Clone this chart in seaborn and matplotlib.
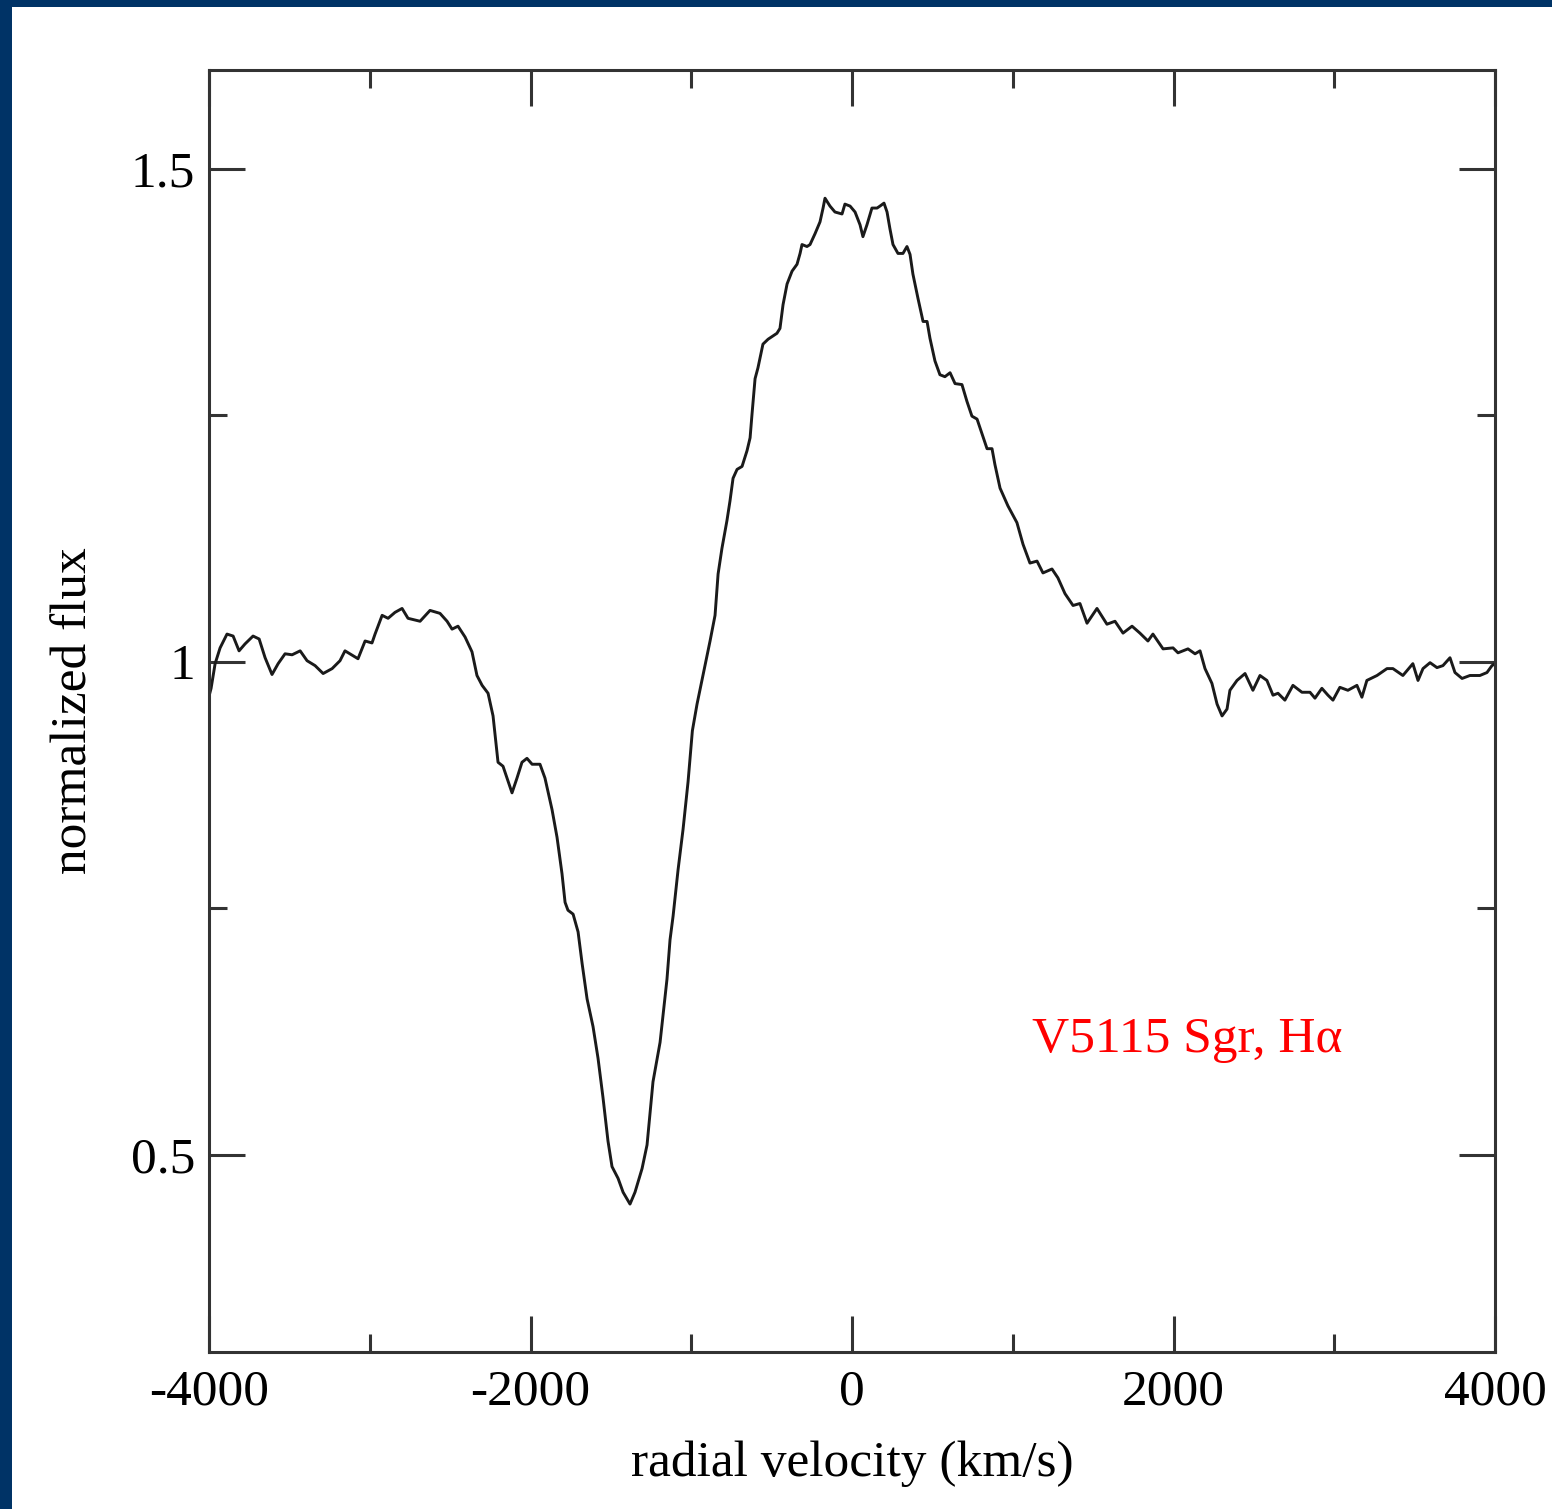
import matplotlib
matplotlib.use("Agg")
import matplotlib.pyplot as plt
import seaborn as sns
import pandas as pd
from matplotlib.patches import Rectangle
from matplotlib.ticker import FixedLocator, FixedFormatter

# ---- data ----
velocity = [
    -4000, -3987, -3962, -3931, -3888, -3850, -3813, -3776, -3726, -3688, -3651,
    -3608, -3570, -3527, -3483, -3433, -3390, -3340, -3290, -3234, -3185, -3154,
    -3104, -3073, -3029, -2986, -2967, -2923, -2886, -2843, -2799, -2762, -2687,
    -2625, -2563, -2519, -2488, -2451, -2407, -2364, -2333, -2301, -2264, -2233,
    -2215, -2202, -2171, -2115, -2084, -2053, -2022, -1990, -1941, -1910, -1866,
    -1835, -1804, -1785, -1767, -1735, -1704, -1679, -1648, -1611, -1580, -1549,
    -1518, -1493, -1455, -1424, -1381, -1350, -1306, -1275, -1238, -1194, -1151,
    -1132, -1113, -1082, -1051, -1020, -1003, -993, -964, -927, -883, -852, -833,
    -809, -778, -759, -740, -715, -684, -653, -634, -622, -603, -585, -554, -522,
    -467, -448, -429, -404, -373, -342, -323, -311, -280, -261, -230, -199, -180,
    -168, -137, -106, -62, -44, -12, 19, 50, 68, 93, 124, 156, 174, 199, 218, 236,
    255, 286, 317, 342, 361, 379, 411, 442, 467, 485, 516, 547, 578, 610, 641,
    684, 715, 746, 778, 809, 840, 871, 889, 921, 970, 1026, 1064, 1107, 1151,
    1188, 1244, 1281, 1325, 1375, 1418, 1462, 1524, 1586, 1636, 1686, 1742, 1791,
    1841, 1872, 1935, 1997, 2028, 2090, 2134, 2165, 2196, 2239, 2271, 2302, 2333,
    2351, 2395, 2445, 2494, 2538, 2581, 2619, 2650, 2693, 2743, 2799, 2849, 2880,
    2923, 2961, 2992, 3035, 3085, 3141, 3172, 3203, 3266, 3328, 3365, 3427, 3489,
    3521, 3552, 3596, 3639, 3676, 3720, 3751, 3795, 3844, 3906, 3950, 3981, 4000,
]
flux = [
    0.965, 0.973, 0.998, 1.014, 1.028, 1.026, 1.011, 1.018, 1.026, 1.023, 1.004,
    0.987, 0.998, 1.008, 1.007, 1.011, 1.001, 0.996, 0.988, 0.993, 1.001, 1.011,
    1.006, 1.003, 1.021, 1.019, 1.028, 1.047, 1.044, 1.050, 1.054, 1.044, 1.041,
    1.052, 1.049, 1.041, 1.033, 1.036, 1.025, 1.010, 0.986, 0.976, 0.968, 0.945,
    0.918, 0.898, 0.894, 0.867, 0.882, 0.898, 0.902, 0.896, 0.896, 0.882, 0.850,
    0.822, 0.785, 0.756, 0.748, 0.744, 0.726, 0.694, 0.658, 0.630, 0.598, 0.558,
    0.514, 0.488, 0.476, 0.462, 0.450, 0.462, 0.486, 0.510, 0.574, 0.614, 0.678,
    0.718, 0.742, 0.789, 0.830, 0.878, 0.910, 0.930, 0.957, 0.986, 1.021, 1.047,
    1.089, 1.115, 1.143, 1.163, 1.186, 1.195, 1.198, 1.214, 1.227, 1.251, 1.287,
    1.298, 1.322, 1.327, 1.333, 1.338, 1.362, 1.383, 1.396, 1.403, 1.414, 1.423,
    1.421, 1.423, 1.434, 1.446, 1.460, 1.470, 1.462, 1.456, 1.454, 1.464, 1.462,
    1.456, 1.443, 1.431, 1.443, 1.460, 1.460, 1.462, 1.465, 1.456, 1.439, 1.423,
    1.414, 1.414, 1.421, 1.413, 1.393, 1.368, 1.345, 1.345, 1.328, 1.305, 1.291,
    1.289, 1.293, 1.282, 1.281, 1.264, 1.249, 1.246, 1.231, 1.216, 1.216, 1.200,
    1.176, 1.158, 1.141, 1.119, 1.100, 1.102, 1.090, 1.094, 1.085, 1.069, 1.057,
    1.059, 1.039, 1.054, 1.038, 1.041, 1.029, 1.036, 1.029, 1.021, 1.028, 1.013,
    1.014, 1.009, 1.013, 1.008, 1.011, 0.993, 0.978, 0.957, 0.945, 0.952, 0.971,
    0.981, 0.988, 0.971, 0.986, 0.981, 0.966, 0.968, 0.961, 0.976, 0.969, 0.969,
    0.963, 0.973, 0.966, 0.961, 0.974, 0.971, 0.976, 0.964, 0.981, 0.986, 0.993,
    0.993, 0.986, 0.998, 0.981, 0.993, 0.999, 0.994, 0.996, 1.004, 0.989, 0.983,
    0.986, 0.986, 0.989, 0.996, 0.998,
]
x_major_ticks = [-4000, -2000, 0, 2000, 4000]
x_major_labels = ["-4000", "-2000", "0", "2000", "4000"]
x_minor_ticks = [-3000, -1000, 1000, 3000]
y_major_ticks = [0.5, 1.0, 1.5]
y_major_labels = ["0.5", "1", "1.5"]
y_minor_ticks = [0.75, 1.25]
x_label = "radial velocity (km/s)"
y_label = "normalized flux"
annotation = "V5115 Sgr, H\u03b1"

df = pd.DataFrame({"velocity": velocity, "flux": flux})

sns.set_theme(style="white")
plt.rcParams["font.family"] = ["Liberation Serif", "DejaVu Serif"]
plt.rcParams["axes.unicode_minus"] = False
plt.rcParams["text.color"] = "black"
plt.rcParams["axes.labelcolor"] = "black"

fig = plt.figure(figsize=(15.52, 15.09), dpi=100)
fig.patch.set_facecolor("white")
W, H = 1552, 1509
# dark blue frame on left and top
fig.patches.append(Rectangle((0, 0), 12 / W, 1, transform=fig.transFigure,
                             facecolor="#003366", edgecolor="none", zorder=0))
fig.patches.append(Rectangle((0, 1 - 7 / H), 1, 7 / H, transform=fig.transFigure,
                             facecolor="#003366", edgecolor="none", zorder=0))

ax = fig.add_axes([209 / W, 1 - 1352 / H, (1495 - 209) / W, (1352 - 70) / H])
sns.lineplot(data=df, x="velocity", y="flux", ax=ax, color="#1a1a1a",
             linewidth=2.1, estimator=None, sort=False)

ax.set_xlim(-4000, 4000)
ax.set_ylim(0.3, 1.6)
ax.xaxis.set_major_locator(FixedLocator(x_major_ticks))
ax.xaxis.set_major_formatter(FixedFormatter(x_major_labels))
ax.xaxis.set_minor_locator(FixedLocator(x_minor_ticks))
ax.yaxis.set_major_locator(FixedLocator(y_major_ticks))
ax.yaxis.set_major_formatter(FixedFormatter(y_major_labels))
ax.yaxis.set_minor_locator(FixedLocator(y_minor_ticks))

for s in ax.spines.values():
    s.set_color("#333333")
    s.set_linewidth(2.2)
    s.set_visible(True)

ax.tick_params(which="both", direction="in", top=True, right=True,
               bottom=True, left=True, color="#333333", width=2.2,
               labelcolor="black")
ax.tick_params(which="major", length=26, labelsize=37, pad=12)
ax.tick_params(which="minor", length=13)
ax.tick_params(axis="y", which="major", pad=10)

ax.set_xlabel(x_label, fontsize=37, labelpad=18, color="black")
ax.set_ylabel(y_label, fontsize=37, labelpad=24, color="black")
ax.grid(False)

ax.text(1120, 0.617, annotation, color="#ff0000", fontsize=37,
        ha="left", va="center")

fig.savefig("out.png", dpi=100, facecolor="white")
